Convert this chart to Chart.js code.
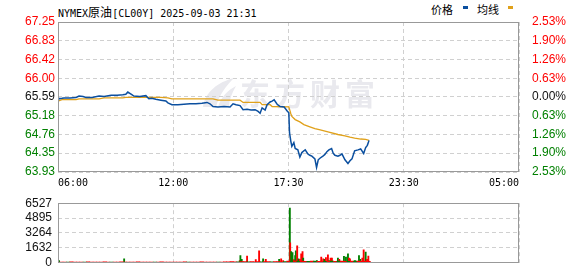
<!DOCTYPE html>
<html>
<head>
<meta charset="utf-8">
<script src="https://cdn.jsdelivr.net/npm/chart.js@4.4.1/dist/chart.umd.min.js"></script>
<style>
  body { margin: 0; background: #fff; width: 578px; height: 276px; position: relative; overflow: hidden; }
  #title { position: absolute; left: 58px; top: 3px; font: 10px 'DejaVu Sans Mono', monospace; line-height: 12px; color: #000; white-space: nowrap; }
  #title .cjk { font: 12px 'Noto Sans CJK SC'; }
  .lg { position: absolute; top: 2px; font: 11px 'Noto Sans CJK SC'; line-height: 14px; color: #000; }
  .dash { position: absolute; top: 6px; width: 5px; height: 3px; }
  #c1 { position: absolute; left: 0; top: 0; }
  #c2 { position: absolute; left: 0; top: 190px; }
</style>
</head>
<body>
<div id="title">NYMEX<span class="cjk">原油</span>[CL00Y] 2025-09-03 21:31</div>
<span class="lg" style="left:431px">价格</span>
<span class="dash" style="left:463px;background:#0b4f9f"></span>
<span class="lg" style="left:477px">均线</span>
<span class="dash" style="left:508px;background:#e0a11b"></span>
<canvas id="c1" width="578" height="190"></canvas>
<canvas id="c2" width="578" height="86"></canvas>
<script>
// ---- data ----
const timeLabels = ['06:00', '12:00', '17:30', '23:30', '05:00'];
const priceTicks = [63.93, 64.35, 64.76, 65.18, 65.59, 66.00, 66.42, 66.83, 67.25];
const pctLabels = ['2.53%', '1.90%', '1.26%', '0.63%', '0.00%', '0.63%', '1.26%', '1.90%', '2.53%'];
const volTicks = [0, 1632, 3264, 4895, 6527];

const priceTimes = ['06:00','06:01','06:03','06:12','06:18','06:36','06:54','07:03','07:15','07:24','07:42','08:03','08:18','08:39','08:57',
  '09:14','09:23','09:29','09:35','09:41','09:47','10:05','10:23','10:32','10:41','10:53','11:08','11:23','11:29','11:41','11:59',
  '12:17','12:35','12:53','13:11','13:26','13:35','13:44','13:59','14:17','14:35','14:44','14:53','15:05','15:14','15:26','15:38',
  '15:50','15:59','16:05','16:11','16:20','16:26','16:35','16:41','16:47','16:56','17:05','17:17','17:26','17:31','17:33','17:37',
  '17:40','17:46','17:50','17:58','18:04','18:10','18:16','18:20','18:28','18:34','18:40','18:49','18:54','18:59','19:05','19:13',
  '19:19','19:25','19:31','19:39','19:44','19:49','19:58','20:04','20:10','20:19','20:28','20:34','20:40','20:48','20:58','21:06',
  '21:15','21:21','21:26','21:29','21:31'];
const prices = [65.52,65.58,65.55,65.56,65.57,65.57,65.58,65.61,65.60,65.58,65.58,65.61,65.60,65.63,65.63,
  65.64,65.65,65.70,65.67,65.64,65.61,65.60,65.62,65.55,65.56,65.54,65.52,65.50,65.46,65.42,65.42,
  65.43,65.44,65.44,65.45,65.47,65.44,65.38,65.37,65.38,65.37,65.44,65.42,65.40,65.31,65.32,65.30,
  65.31,65.27,65.23,65.35,65.30,65.42,65.48,65.50,65.53,65.43,65.38,65.37,65.28,65.24,64.80,64.61,
  64.50,64.58,64.45,64.42,64.26,64.36,64.40,64.42,64.33,64.30,64.28,64.22,64.03,64.20,64.24,64.28,
  64.32,64.38,64.42,64.45,64.34,64.30,64.28,64.30,64.33,64.20,64.12,64.18,64.22,64.40,64.42,64.44,
  64.34,64.47,64.52,64.58,64.63];

const avgTimes = ['06:00','06:12','06:54','07:03','08:03','08:18','09:14','09:23','11:08','11:29','11:41','13:44','13:59','15:05',
  '15:14','16:05','16:11','16:35','16:41','17:31','17:37','17:40','17:50','18:04','18:16','18:34','18:49','19:05','19:31','19:58',
  '20:19','20:34','20:48','21:06','21:21','21:31'];
const avgPrices = [65.50,65.53,65.53,65.55,65.55,65.57,65.57,65.58,65.58,65.57,65.55,65.55,65.52,65.52,
  65.47,65.47,65.42,65.42,65.38,65.37,65.22,65.16,65.09,65.04,64.98,64.93,64.89,64.86,64.81,64.76,
  64.73,64.70,64.68,64.66,64.65,64.63];

// small volume every 10 minutes from 06:00 to 21:30
const baseVol = [120,90,80,90,100,80,90,90,80,100,90,80,90,90,100,80,90,80,90,100,
  90,80,90,90,100,90,80,90,80,90,90,100,90,80,90,90,80,90,100,90,
  90,80,90,100,90,80,90,90,80,90,110,100,120,100,110,120,130,110,120,100,
  120,110,130,120,110,130,120,110,120,
  200,180,220,160,200,170,150,180,200,160,180,150,170,190,160,180,200,170,160,180,190,200,170,180,160];
const baseUp = 'grrgrrrrgrrrrrrrgrrrrrrrrrrrrgrrrrrrrrrgrrrrrrrrgrrrrrgrrgrrrgrrgrrrgrgrgrrgrgrrgrgrgrrgrgrr';

const spikeTimes = ['06:03','09:18','15:04','15:06','15:10','15:26','15:52','16:02','16:14','16:22','17:02','17:08','17:14',
  '17:34','17:35','17:38','17:42','17:46','17:50','17:52','17:56','18:00','18:04','18:08','18:12','18:14','18:49','18:55',
  '19:08','19:14','19:18','19:22','19:28','19:32','19:36','19:40','19:58','20:02','20:16','20:22','20:28','20:31','20:34',
  '20:44','20:49','21:01','21:05','21:11','21:15','21:21','21:25','21:29','21:31'];
const spikeVol = [240,440,250,800,380,730,350,1320,440,370,370,440,250,
  6000,2200,1230,1120,350,800,1320,1850,440,370,970,1230,530,150,250,
  640,440,370,560,880,250,530,530,530,370,700,620,970,530,440,
  150,250,800,370,530,1410,1170,370,730,150];
const spikeUp = 'ggrggrrrgrgrrgrggrggrgrrrggg' + 'rrgrrgrrgrgggrrrgggrrgrrrgr';

// ---- helpers ----
const RED = '#ff0000', GREEN = '#008000', BLUE = '#0b4f9f', GOLD = '#e0a11b';
const SPAN = 1380; // 06:00 -> 05:00 next day
function toMin(t) {
  const [h, m] = t.split(':').map(Number);
  let v = h * 60 + m - 360;
  if (v < 0) v += 1440;
  return v;
}
const xTickPos = timeLabels.map((_, i) => i * SPAN / (timeLabels.length - 1));

const boxPlugin = {
  id: 'box',
  afterDraw(chart) {
    const { ctx, chartArea: a } = chart;
    ctx.save();
    ctx.strokeStyle = '#999';
    ctx.lineWidth = 1;
    ctx.strokeRect(Math.round(a.left) + 0.5, Math.round(a.top) + 0.5,
      Math.round(a.right - a.left) - 1, Math.round(a.bottom - a.top) - 1);
    ctx.restore();
  }
};

const watermark = {
  id: 'watermark',
  beforeDraw(chart) {
    const ctx = chart.ctx;
    ctx.save();
    ctx.fillStyle = '#e9e9ee';
    // leaf logo
    ctx.beginPath();
    ctx.moveTo(203, 107);
    ctx.bezierCurveTo(205, 92, 218, 82, 234, 78);
    ctx.bezierCurveTo(226, 86, 219, 95, 216, 107);
    ctx.closePath();
    ctx.fill();
    ctx.beginPath();
    ctx.moveTo(218, 107);
    ctx.bezierCurveTo(221, 97, 228, 90, 236, 86);
    ctx.bezierCurveTo(232, 93, 229, 100, 229, 107);
    ctx.closePath();
    ctx.fill();
    ctx.font = 'bold 30px "Noto Sans CJK SC"';
    ctx.textBaseline = 'middle';
    if ('letterSpacing' in ctx) ctx.letterSpacing = '5px';
    ctx.fillText('东方财富', 240, 94);
    ctx.restore();
  }
};

const gridCommon = { color: '#d0d0d0', lineWidth: 1, drawTicks: false };
const borderCommon = { display: false, dash: [4, 3] };

// ---- price chart ----
new Chart(document.getElementById('c1'), {
  type: 'line',
  data: {
    datasets: [
      {
        label: '价格',
        data: priceTimes.map((t, i) => ({ x: toMin(t), y: prices[i] })),
        borderColor: BLUE, borderWidth: 1.5, pointRadius: 0, tension: 0
      },
      {
        label: '均线',
        data: avgTimes.map((t, i) => ({ x: toMin(t), y: avgPrices[i] })),
        borderColor: GOLD, borderWidth: 1.3, pointRadius: 0, tension: 0
      }
    ]
  },
  options: {
    responsive: false,
    animation: false,
    layout: { padding: { top: 22, left: 0, right: 0, bottom: 0 } },
    plugins: { legend: { display: false }, tooltip: { enabled: false } },
    scales: {
      x: {
        type: 'linear', min: 0, max: SPAN,
        afterBuildTicks: s => { s.ticks = xTickPos.map(v => ({ value: v })); },
        afterFit: s => { s.height = 18; },
        ticks: {
          autoSkip: false, maxRotation: 0, align: 'inner', padding: 5,
          font: { family: 'DejaVu Sans Mono', size: 10 }, color: '#000',
          callback: (v, i) => timeLabels[i]
        },
        grid: gridCommon, border: borderCommon
      },
      y: {
        position: 'left', min: priceTicks[0], max: priceTicks[priceTicks.length - 1],
        afterBuildTicks: s => { s.ticks = priceTicks.map(v => ({ value: v })); },
        afterFit: s => { s.width = 58; },
        ticks: {
          autoSkip: false, padding: 3, font: { family: 'Liberation Sans', size: 12 },
          color: c => c.index > 4 ? RED : c.index === 4 ? '#111' : GREEN,
          callback: (v, i) => priceTicks[i].toFixed(2)
        },
        grid: gridCommon, border: borderCommon
      },
      y2: {
        position: 'right', min: priceTicks[0], max: priceTicks[priceTicks.length - 1],
        afterBuildTicks: s => { s.ticks = priceTicks.map(v => ({ value: v })); },
        afterFit: s => { s.width = 59; },
        ticks: {
          autoSkip: false, padding: 5, font: { family: 'Liberation Sans', size: 12 },
          color: c => c.index > 4 ? RED : c.index === 4 ? '#111' : GREEN,
          callback: (v, i) => pctLabels[i]
        },
        grid: { display: false }, border: { display: false }
      }
    }
  },
  plugins: [watermark, boxPlugin]
});

// ---- volume chart ----
const baseData = baseVol.map((v, i) => ({ x: i * 10, y: v }));
const baseColors = baseVol.map((v, i) => baseUp[i] === 'g' ? GREEN : RED);
const spikeData = spikeTimes.map((t, i) => ({ x: toMin(t), y: spikeVol[i] }));
const spikeColors = spikeVol.map((v, i) => spikeUp[i] === 'g' ? GREEN : RED);

new Chart(document.getElementById('c2'), {
  type: 'bar',
  data: {
    datasets: [
      { data: baseData, backgroundColor: baseColors, barThickness: 3.4, grouped: false, borderWidth: 0 },
      { data: spikeData, backgroundColor: spikeColors, barThickness: 1.2, grouped: false, borderWidth: 0 }
    ]
  },
  options: {
    responsive: false,
    animation: false,
    layout: { padding: { top: 6, left: 0, right: 59, bottom: 0 } },
    plugins: { legend: { display: false }, tooltip: { enabled: false } },
    scales: {
      x: {
        type: 'linear', min: 0, max: SPAN, offset: false,
        afterBuildTicks: s => { s.ticks = xTickPos.map(v => ({ value: v })); },
        afterFit: s => { s.height = 6; },
        ticks: { display: false },
        grid: { ...gridCommon, offset: false }, border: borderCommon
      },
      y: {
        min: 0, max: volTicks[volTicks.length - 1],
        afterBuildTicks: s => { s.ticks = volTicks.map(v => ({ value: v })); },
        afterFit: s => { s.width = 58; },
        ticks: {
          autoSkip: false, padding: 6, font: { family: 'Liberation Sans', size: 12 }, color: '#111',
          callback: (v, i) => String(volTicks[i])
        },
        grid: gridCommon, border: borderCommon
      }
    }
  },
  plugins: [boxPlugin]
});
</script>
</body>
</html>
